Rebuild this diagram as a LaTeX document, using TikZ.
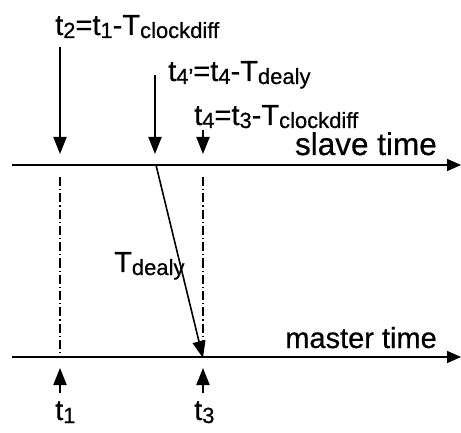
\documentclass[tikz,border=0pt]{standalone}
\usepackage{fontspec}
\setmainfont[FakeBold=0.6]{Liberation Sans}
\usetikzlibrary{arrows.meta}
\newcommand\lsub[1]{\raisebox{-3pt}{\fontsize{22}{22}\selectfont #1}}
\begin{document}
\begin{tikzpicture}[x=1pt,y=-1pt,
  every node/.style={inner sep=0pt, font=\fontsize{29}{29}\selectfont},
  tip/.style={-{Triangle[length=17pt,width=13pt]}},
  axisline/.style={line width=1.6pt,-{Triangle[length=14pt,width=12pt]}},
  evarrow/.style={line width=2pt,tip},
  guide/.style={line width=1.3pt, dash pattern=on 9pt off 3pt on 1.3pt off 3pt}]
\useasboundingbox (0,0) rectangle (461,433);
% axes
\coordinate (sL) at (12,165); \coordinate (sR) at (461,165);
\coordinate (mL) at (12,357); \coordinate (mR) at (461,357);
\draw[axisline] (sL) -- (sR);
\draw[axisline] (mL) -- (mR);
% downward arrows
\coordinate (a1s) at (60,47);  \coordinate (a1e) at (60,154);
\coordinate (a2s) at (155,75); \coordinate (a2e) at (155,154);
\coordinate (a3s) at (203,130); \coordinate (a3e) at (203,154);
\draw[evarrow] (a1s) -- (a1e);
\draw[evarrow] (a2s) -- (a2e);
\draw[evarrow] (a3s) -- (a3e);
% guides
\coordinate (g1s) at (60,177); \coordinate (g1e) at (60,357);
\coordinate (g3s) at (203,177); \coordinate (g3e) at (203,343);
\draw[guide] (g1s) -- (g1e);
\draw[guide] (g3s) -- (g3e);
% delay arrow
\coordinate (ds) at (156,165); \coordinate (de) at (203,358);
\draw[line width=1.6pt,tip] (ds) -- (de);
% upward arrows
\coordinate (u1s) at (60,393); \coordinate (u1e) at (60,368);
\coordinate (u3s) at (203,393); \coordinate (u3e) at (203,368);
\draw[evarrow] (u1s) -- (u1e);
\draw[evarrow] (u3s) -- (u3e);
% labels
\node[anchor=base west] (l2) at (55,35) {t\lsub{2}=t\lsub{1}-T\lsub{clockdiff}};
\node[anchor=base west] (l4p) at (168,81) {t\lsub{4'}=t\lsub{4}-T\lsub{dealy}};
\node[anchor=base west] (l4) at (194,125) {t\lsub{4}=t\lsub{3}-T\lsub{clockdiff}};
\node[anchor=base east, font=\fontsize{31.5}{31.5}\selectfont] (slave) at (437,155) {slave time};
\node[anchor=base east] (master) at (437,348) {master time};
\node[anchor=base west] (td) at (114,272) {T\lsub{dealy}};
\node[anchor=base west] (t1) at (55,420) {t\lsub{1}};
\node[anchor=base west] (t3) at (194,420) {t\lsub{3}};
\end{tikzpicture}
\end{document}
